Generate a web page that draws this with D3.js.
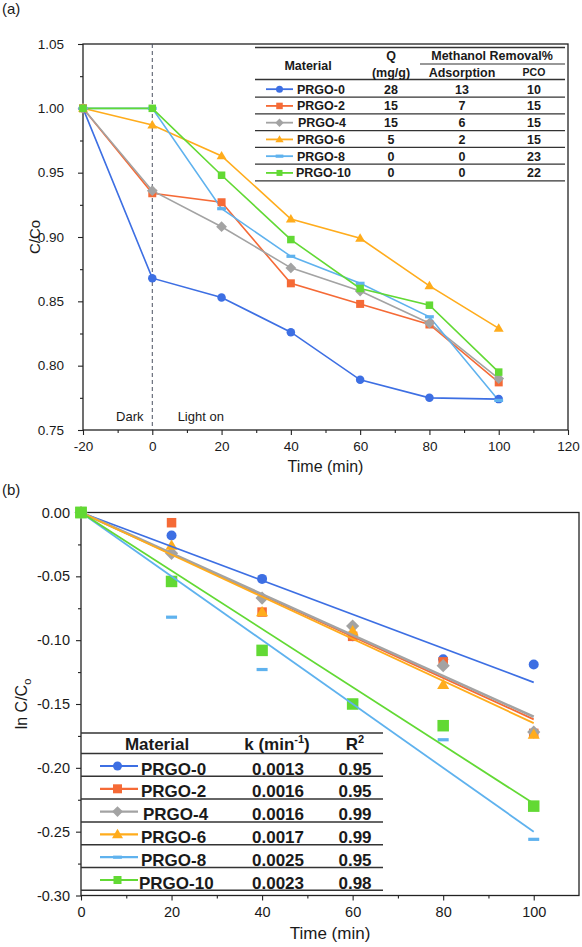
<!DOCTYPE html>
<html><head><meta charset="utf-8">
<script src="https://cdn.jsdelivr.net/npm/d3@7"></script>
<style>
body{margin:0;background:#fff}
svg{display:block;font-family:Arial,"Liberation Sans",Helvetica,sans-serif}
svg text{font-family:Arial,"Liberation Sans",Helvetica,sans-serif;fill:#1a1a1a}
</style>
</head><body>
<svg id="c" width="582" height="947" font-family="Liberation Sans, Arial, sans-serif"></svg>
<script>
// ---------- shared ----------
const materials = ["PRGO-0","PRGO-2","PRGO-4","PRGO-6","PRGO-8","PRGO-10"];
const seriesColors = ["#3d6fe3","#f56a36","#a3a3a3","#ffac1c","#5fb2ee","#62d934"];
const markerShapes = ["circle","square","diamond","triangle","dash","square"];

// ---------- (a) C/Co vs time ----------
const timeA = [-20,0,20,40,60,80,100];
const ratioPRGO0  = [1.000,0.868,0.853,0.826,0.789,0.775,0.774];
const ratioPRGO2  = [1.000,0.934,0.927,0.864,0.848,0.832,0.787];
const ratioPRGO4  = [1.000,0.936,0.908,0.876,0.858,0.833,0.790];
const ratioPRGO6  = [1.000,0.987,0.963,0.914,0.899,0.862,0.829];
const ratioPRGO8  = [1.000,1.000,0.922,0.885,0.864,0.838,0.773];
const ratioPRGO10 = [1.000,1.000,0.948,0.898,0.860,0.847,0.795];
const ticksAX = [-20,0,20,40,60,80,100,120];
const ticksAY = [0.75,0.80,0.85,0.90,0.95,1.00,1.05];
const qValues = [28,15,15,5,0,0];
const adsorptionValues = [13,7,6,2,0,0];
const pcoValues = [10,15,15,15,23,22];

// ---------- (b) ln C/Co vs time ----------
const timeB = [0,20,40,60,80,100];
const lnPRGO0  = [0,-0.018,-0.052,-0.097,-0.115,-0.119];
const lnPRGO2  = [0,-0.008,-0.078,-0.097,-0.117,-0.173];
const lnPRGO4  = [0,-0.032,-0.067,-0.089,-0.120,-0.172];
const lnPRGO6  = [0,-0.026,-0.078,-0.093,-0.135,-0.174];
const lnPRGO8  = [0,-0.082,-0.123,-0.148,-0.178,-0.256];
const lnPRGO10 = [0,-0.054,-0.108,-0.150,-0.167,-0.230];
const fitSlopes = [-0.00133,-0.00162,-0.00160,-0.00165,-0.00250,-0.00228];
const ticksBX = [0,20,40,60,80,100];
const ticksBY = [-0.30,-0.25,-0.20,-0.15,-0.10,-0.05,0.00];
const kValues = ["0.0013","0.0016","0.0016","0.0017","0.0025","0.0023"];
const r2Values = ["0.95","0.95","0.99","0.99","0.95","0.98"];

const ratioSeries = [ratioPRGO0,ratioPRGO2,ratioPRGO4,ratioPRGO6,ratioPRGO8,ratioPRGO10];
const lnSeries = [lnPRGO0,lnPRGO2,lnPRGO4,lnPRGO6,lnPRGO8,lnPRGO10];

const svg = d3.select("#c");
const INK = "#222";
const SANS = "'Liberation Sans', Arial, sans-serif";

function drawMarker(g, shape, x, y, s, color){
  if(shape==="circle"){
    g.append("circle").attr("cx",x).attr("cy",y).attr("r",s/2).attr("fill",color);
  } else if(shape==="square"){
    g.append("rect").attr("x",x-s/2).attr("y",y-s/2).attr("width",s).attr("height",s).attr("fill",color);
  } else if(shape==="diamond"){
    const h=s*0.6;
    g.append("path").attr("d",`M${x},${y-h}L${x+h},${y}L${x},${y+h}L${x-h},${y}Z`).attr("fill",color);
  } else if(shape==="triangle"){
    const h=s*0.9;
    g.append("path").attr("d",`M${x},${y-h*0.62}L${x+s*0.55},${y+h*0.42}L${x-s*0.55},${y+h*0.42}Z`).attr("fill",color);
  } else if(shape==="dash"){
    g.append("rect").attr("x",x-s*0.55).attr("y",y-1.6).attr("width",s*1.1).attr("height",3.2).attr("fill",color);
  }
}
function txt(g,x,y,s,size,opts){
  opts=opts||{};
  const t=g.append("text").attr("x",x).attr("y",y).attr("font-family",opts.serif?"'Liberation Serif','Times New Roman',serif":SANS)
    .attr("font-size",size).attr("fill","#1a1a1a");
  if(opts.anchor) t.attr("text-anchor",opts.anchor);
  if(opts.bold) t.attr("font-weight","bold");
  if(s!==null) t.text(s);
  return t;
}

// ================= PANEL (a) =================
txt(svg,2,14,"(a)",15,{serif:true});

const xA = d3.scaleLinear().domain([-20,120]).range([83,568]);
const yA = d3.scaleLinear().domain([0.75,1.05]).range([430,44]);
const gA = svg.append("g");

const axAx = gA.append("g").attr("transform",`translate(0,${yA(0.75)})`)
  .call(d3.axisBottom(xA).tickValues(ticksAX).tickSize(5).tickSizeOuter(0).tickPadding(6).tickFormat(d=>d));
const axAxMinor = gA.append("g").attr("transform",`translate(0,${yA(0.75)})`)
  .call(d3.axisBottom(xA).tickValues(d3.range(-10,120,20)).tickSize(3).tickSizeOuter(0).tickFormat(""));
const axAy = gA.append("g").attr("transform",`translate(${xA(-20)},0)`)
  .call(d3.axisLeft(yA).tickValues(ticksAY).tickSize(5).tickSizeOuter(0).tickPadding(14).tickFormat(d=>d.toFixed(2)));
const axAyMinor = gA.append("g").attr("transform",`translate(${xA(-20)},0)`)
  .call(d3.axisLeft(yA).tickValues(d3.range(0.775,1.05,0.05)).tickSize(3).tickSizeOuter(0).tickFormat(""));
[axAx,axAxMinor,axAy,axAyMinor].forEach(a=>{a.attr("font-family",SANS);a.select(".domain").remove();a.selectAll("line").attr("stroke",INK).attr("stroke-width",1.1);});
[axAx,axAy].forEach(a=>a.attr("font-size",13.5).selectAll("text").attr("fill","#1a1a1a"));
gA.append("rect").attr("x",xA(-20)).attr("y",yA(1.05)).attr("width",xA(120)-xA(-20)).attr("height",yA(0.75)-yA(1.05))
  .attr("fill","none").attr("stroke",INK).attr("stroke-width",1.3);

gA.append("line").attr("x1",xA(0)).attr("x2",xA(0)).attr("y1",yA(1.05)).attr("y2",yA(0.75))
  .attr("stroke","#4a5160").attr("stroke-width",1).attr("stroke-dasharray","4,3");
txt(gA,xA(-6.5),421,"Dark",13,{anchor:"middle"});
txt(gA,xA(14),421,"Light on",13,{anchor:"middle"});

txt(gA,(xA(-20)+xA(120))/2,472,"Time (min)",16,{anchor:"middle"});
txt(gA,0,0,"C/Co",15,{anchor:"middle"}).attr("transform",`translate(40,${(yA(0.75)+yA(1.05))/2}) rotate(-90)`);

const lineA = d3.line().x((d,i)=>xA(timeA[i])).y(d=>yA(d));
const sizesA = [8.5,8,9,9,8,7.5];
ratioSeries.forEach((ser,si)=>{
  gA.append("path").attr("d",lineA(ser)).attr("fill","none").attr("stroke",seriesColors[si]).attr("stroke-width",1.6);
});
ratioSeries.forEach((ser,si)=>{
  const mg = gA.append("g");
  ser.forEach((v,i)=>drawMarker(mg,markerShapes[si],xA(timeA[i]),yA(v),sizesA[si],seriesColors[si]));
});

// table (a)
const tA = svg.append("g");
const tLeft=255, tRight=565;
const hline=(g,x1,x2,y,w)=>g.append("line").attr("x1",x1).attr("x2",x2).attr("y1",y).attr("y2",y).attr("stroke","#333").attr("stroke-width",w||1.2);
hline(tA,tLeft,tRight,47.5,1.6);
hline(tA,420,tRight,64,1.2);
hline(tA,tLeft,tRight,79.5,1.4);
const fsA=12.5;
txt(tA,308,70,"Material",fsA,{anchor:"middle",bold:true});
txt(tA,391,60,"Q",fsA,{anchor:"middle",bold:true});
txt(tA,391,76.5,"(mg/g)",fsA,{anchor:"middle",bold:true});
txt(tA,492,60,"Methanol Removal%",fsA,{anchor:"middle",bold:true});
txt(tA,462,76.5,"Adsorption",fsA,{anchor:"middle",bold:true});
txt(tA,534,76,"PCO",10.5,{anchor:"middle",bold:true});
const rowA0=80.3, rowAH=16.75;
materials.forEach((m,i)=>{
  const top=rowA0+i*rowAH, cy=top+rowAH/2+0.5, base=cy+4.5;
  hline(tA,tLeft,tRight,top+rowAH,1.2);
  tA.append("line").attr("x1",266).attr("x2",293).attr("y1",cy).attr("y2",cy).attr("stroke",seriesColors[i]).attr("stroke-width",1.8);
  drawMarker(tA,markerShapes[i],279.5,cy,[7,6.5,7,7.5,7,6][i],seriesColors[i]);
  txt(tA,i===5?296:297+(i===2?1:0),base,m,fsA,{bold:true});
  txt(tA,391,base,qValues[i],fsA,{anchor:"middle",bold:true});
  txt(tA,462,base,adsorptionValues[i],fsA,{anchor:"middle",bold:true});
  txt(tA,534,base,pcoValues[i],fsA,{anchor:"middle",bold:true});
});

// ================= PANEL (b) =================
txt(svg,2,495,"(b)",15,{serif:true});

const xB = d3.scaleLinear().domain([0,110]).range([81,579]);
const yB = d3.scaleLinear().domain([-0.30,0]).range([895.5,512.5]);
const gB = svg.append("g");

const axBx = gB.append("g").attr("transform",`translate(0,${yB(-0.30)})`)
  .call(d3.axisBottom(xB).tickValues(ticksBX).tickSize(5).tickSizeOuter(0).tickPadding(6).tickFormat(d=>d));
const axBxMinor = gB.append("g").attr("transform",`translate(0,${yB(-0.30)})`)
  .call(d3.axisBottom(xB).tickValues(d3.range(10,110,20)).tickSize(3).tickSizeOuter(0).tickFormat(""));
const axBy = gB.append("g").attr("transform",`translate(${xB(0)},0)`)
  .call(d3.axisLeft(yB).tickValues(ticksBY).tickSize(5).tickSizeOuter(0).tickPadding(6).tickFormat(d=>d.toFixed(2)));
const axByMinor = gB.append("g").attr("transform",`translate(${xB(0)},0)`)
  .call(d3.axisLeft(yB).tickValues(d3.range(-0.275,0,0.05)).tickSize(3).tickSizeOuter(0).tickFormat(""));
[axBx,axBxMinor,axBy,axByMinor].forEach(a=>{a.attr("font-family",SANS);a.select(".domain").remove();a.selectAll("line").attr("stroke",INK).attr("stroke-width",1.1);});
[axBx,axBy].forEach(a=>a.attr("font-size",14.5).selectAll("text").attr("fill","#1a1a1a"));
gB.append("rect").attr("x",xB(0)).attr("y",yB(0)).attr("width",xB(110)-xB(0)).attr("height",yB(-0.30)-yB(0))
  .attr("fill","none").attr("stroke",INK).attr("stroke-width",1.3);

txt(gB,(xB(0)+xB(110))/2,939,"Time (min)",17,{anchor:"middle"});
const ylab = txt(gB,0,0,null,16,{anchor:"middle"}).attr("transform",`translate(27,${(yB(0)+yB(-0.30))/2}) rotate(-90)`);
ylab.append("tspan").text("ln C/C");
ylab.append("tspan").attr("dy",4).attr("font-size",11).text("o");

const sizesB = [10,9.5,11,11,10,11.5];
lnSeries.forEach((ser,si)=>{
  const mg = gB.append("g");
  ser.forEach((v,i)=>drawMarker(mg,markerShapes[si],xB(timeB[i]),yB(v),sizesB[si],seriesColors[si]));
});
fitSlopes.forEach((k,si)=>{
  gB.append("line").attr("x1",xB(0)).attr("y1",yB(0)).attr("x2",xB(100)).attr("y2",yB(k*100))
    .attr("stroke",seriesColors[si]).attr("stroke-width",si===2?2.6:1.8);
});
drawMarker(gB,"square",xB(timeB[0]),yB(lnPRGO10[0]),11.5,seriesColors[5]);

// table (b)
const tB = svg.append("g");
const bLeft=81, bRight=383;
hline(tB,bLeft,bRight,733,1.5);
hline(tB,bLeft,bRight,753.5,1.5);
const fsB=17;
txt(tB,157,750,"Material",fsB,{anchor:"middle",bold:true});
const kh = txt(tB,277,750,null,fsB,{anchor:"middle",bold:true});
kh.append("tspan").text("k (min");
kh.append("tspan").attr("dy",-7).attr("font-size",11).text("-1");
kh.append("tspan").attr("dy",7).text(")");
const rh = txt(tB,355,750,null,fsB,{anchor:"middle",bold:true});
rh.append("tspan").text("R");
rh.append("tspan").attr("dy",-7).attr("font-size",11).text("2");
const rowB0=753.5, rowBH=22.8;
materials.forEach((m,i)=>{
  const top=rowB0+i*rowBH, base=top+21, cy=top+12.5;
  hline(tB,bLeft,bRight,top+rowBH,1.5);
  tB.append("line").attr("x1",100).attr("x2",138).attr("y1",cy).attr("y2",cy).attr("stroke",seriesColors[i]).attr("stroke-width",2.2);
  drawMarker(tB,markerShapes[i],117.5,cy,[9,9,9,10,8,8][i],seriesColors[i]);
  txt(tB,i===5?139:141+(i===2?2:0),base,m,fsB,{bold:true});
  txt(tB,278,base,kValues[i],fsB,{anchor:"middle",bold:true});
  txt(tB,355,base,r2Values[i],fsB,{anchor:"middle",bold:true});
});
</script>
</body></html>
